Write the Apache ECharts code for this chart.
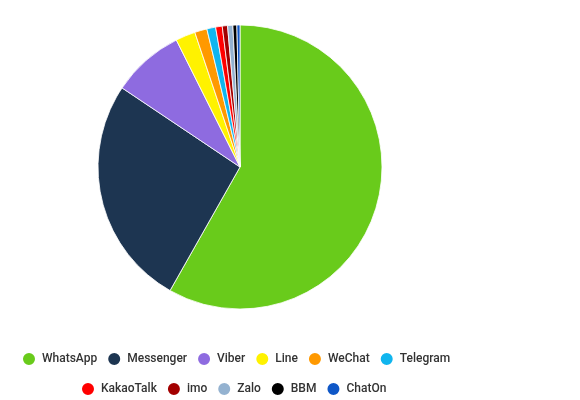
<!DOCTYPE html>
<html>
<head>
<meta charset="utf-8">
<script src="https://cdn.jsdelivr.net/npm/echarts@6/dist/echarts.min.js"></script>
<style>html,body{margin:0;padding:0;background:#fff;}#c{width:580px;height:400px;}</style>
</head>
<body>
<div id="c"></div>
<script>
const categories = ['WhatsApp','Messenger','Viber','Line','WeChat','Telegram','KakaoTalk','imo','Zalo','BBM','ChatOn'];
const shares = [58.2, 26.2, 8.2, 2.25, 1.4, 1.0, 0.75, 0.6, 0.6, 0.45, 0.35];
const colors = ['#69cb1b','#1d3551','#8e6be0','#fff200','#ff9900','#10b5ee','#ff0000','#a30000','#94b2d0','#000000','#0f57c7'];
const row1 = categories.slice(0, 6);
const row2 = categories.slice(6);

const chart = echarts.init(document.getElementById('c'), null, {renderer: 'canvas'});
const legendBase = {
  orient: 'horizontal',
  icon: 'circle',
  itemWidth: 14,
  itemHeight: 14,
  itemGap: 9,
  selectedMode: false,
  textStyle: {fontFamily: 'Roboto', fontSize: 12, fontWeight: 500, color: '#333', padding: [0,0,0,1]}
};
chart.setOption({
  animation: false,
  color: colors,
  legend: [
    Object.assign({}, legendBase, {data: row1, left: 16, top: 346}),
    Object.assign({}, legendBase, {data: row2, left: 75, top: 376})
  ],
  series: [{
    type: 'pie',
    center: [240, 167],
    radius: [0, 142],
    startAngle: 90,
    clockwise: true,
    label: {show: false},
    labelLine: {show: false},
    itemStyle: {borderColor: '#ffffff', borderWidth: 0.8},
    emphasis: {disabled: true},
    data: categories.map((n, i) => ({name: n, value: shares[i]}))
  }]
});
</script>
</body>
</html>
